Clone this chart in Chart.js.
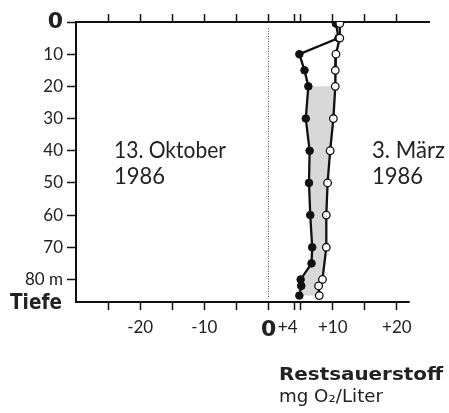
<!DOCTYPE html>
<html>
<head>
<meta charset="utf-8">
<script src="https://cdn.jsdelivr.net/npm/chart.js@4"></script>
<style>
html, body { margin: 0; padding: 0; background: #fff; }
#wrap { width: 449px; height: 413px; position: relative; }
</style>
</head>
<body>
<div id="wrap"><canvas id="profile"></canvas></div>
<script>
// Depth (m) and residual oxygen (mg O2 / l) for both dates
const octDepth = [0.5, 5, 10, 15, 20, 30, 40, 50, 60, 70, 75, 80, 82, 85]
const octO2 = [10.5, 10.9, 4.8, 5.6, 6.2, 5.8, 6.4, 6.3, 6.5, 6.8, 6.7, 5.0, 5.1, 4.8]
const marDepth = [0.5, 5, 10, 15, 20, 30, 40, 50, 60, 70, 80, 82, 85]
const marO2 = [11.1, 11.1, 10.5, 10.4, 10.4, 10.1, 9.6, 9.2, 9.0, 9.0, 8.4, 7.8, 7.9]

// Axis ticks and labels
const depthTicks = [0, 10, 20, 30, 40, 50, 60, 70, 80]
const o2Ticks = [-25, -20, -15, -10, -5, 0, 4, 5, 10, 15, 20]
const o2Labels = { '-20': '-20', '-10': '-10', '0': '0', '4': '+4   ', '10': '+10', '20': '+20' }
const zeroLineDepth = [2, 86]
const shadeFrom = 20

const ink = '#111'
const toPoints = (xs, ys) => xs.map((v, i) => ({ x: v, y: ys[i] }))
const octPts = toPoints(octO2, octDepth)
const marPts = toPoints(marO2, marDepth)
// shaded band between the two profiles below 20 m
const shadePts = octPts.filter(p => p.y >= shadeFrom)
    .concat(marPts.filter(p => p.y >= shadeFrom).reverse())

function fitText(ctx, text, x, y, font, width) {
    ctx.save()
    ctx.font = font
    const w = ctx.measureText(text).width
    ctx.translate(x, y)
    ctx.scale(width / w, 1)
    ctx.fillText(text, 0, 0)
    ctx.restore()
}

const textPlugin = {
    id: 'texts',
    afterDraw(chart) {
        const ctx = chart.ctx
        const xs = chart.scales.x
        const area = chart.chartArea
        // bottom axis line stops at +22
        ctx.save()
        ctx.strokeStyle = ink
        ctx.lineWidth = 2
        ctx.beginPath()
        ctx.moveTo(xs.getPixelForValue(-30) - 1, area.bottom)
        ctx.lineTo(xs.getPixelForValue(22), area.bottom)
        ctx.stroke()

        ctx.fillStyle = '#222'
        ctx.textBaseline = 'alphabetic'
        ctx.textAlign = 'left'
        fitText(ctx, '13. Oktober', 114, 158, '23px Lato', 112)
        fitText(ctx, '1986', 114, 184, '23px Lato', 51)
        fitText(ctx, '3. März', 372, 158, '23px Lato', 73)
        fitText(ctx, '1986', 372, 184, '23px Lato', 51)
        fitText(ctx, 'Tiefe', 10, 309, 'bold 22px "DejaVu Sans"', 52)
        fitText(ctx, 'Restsauerstoff', 279, 380, 'bold 18px "DejaVu Sans"', 164)
        fitText(ctx, 'mg O\u2082/Liter', 279, 402, '17px "DejaVu Sans"', 104)
        ctx.restore()
    }
}

const ctx = document.getElementById('profile')
const profileChart = new Chart(ctx, {
    type: 'scatter',
    data: {
        datasets: [
            {
                data: shadePts,
                showLine: true,
                fill: 'shape',
                backgroundColor: '#d8d8d8',
                borderWidth: 0,
                pointRadius: 0,
                order: 4
            },
            {
                data: toPoints([0, 0], zeroLineDepth),
                showLine: true,
                borderColor: '#444',
                borderWidth: 1,
                borderDash: [1, 1.5],
                pointRadius: 0,
                order: 3
            },
            {
                data: octPts,
                showLine: true,
                borderColor: ink,
                borderWidth: 2.3,
                pointRadius: 3.8,
                pointBackgroundColor: ink,
                pointBorderColor: ink,
                pointBorderWidth: 1,
                order: 2
            },
            {
                data: marPts,
                showLine: true,
                borderColor: ink,
                borderWidth: 2.3,
                pointRadius: 3.8,
                pointBackgroundColor: '#fff',
                pointBorderColor: ink,
                pointBorderWidth: 1.3,
                order: 1
            }
        ]
    },
    options: {
        responsive: true,
        maintainAspectRatio: false,
        animation: false,
        layout: { padding: { left: 0, right: 20, top: 0, bottom: 0 } },
        plugins: {
            legend: { display: false },
            tooltip: { enabled: false }
        },
        scales: {
            x: {
                type: 'linear',
                position: 'bottom',
                min: -30,
                max: 25,
                afterBuildTicks: s => { s.ticks = o2Ticks.map(v => ({ value: v })) },
                afterFit: s => { s.height = 111 },
                border: { display: false },
                grid: { drawOnChartArea: false, tickLength: 8, tickColor: ink, tickWidth: 1.5 },
                ticks: {
                    autoSkip: false,
                    maxRotation: 0,
                    padding: 7,
                    color: '#222',
                    font: c => (c.tick && c.tick.value === 0)
                        ? { family: 'DejaVu Sans', size: 22, weight: 'bold' }
                        : { family: 'Lato', size: 17 },
                    callback: v => o2Labels[v] ?? ''
                }
            },
            x2: {
                type: 'linear',
                position: 'top',
                min: -30,
                max: 25,
                afterBuildTicks: s => { s.ticks = o2Ticks.map(v => ({ value: v })) },
                afterFit: s => { s.height = 22 },
                border: { display: true, color: ink, width: 2 },
                grid: { drawOnChartArea: false, tickLength: 8, tickColor: ink, tickWidth: 1.5 },
                ticks: { display: false }
            },
            y: {
                type: 'linear',
                reverse: true,
                min: 0,
                max: 87,
                afterBuildTicks: s => { s.ticks = depthTicks.map(v => ({ value: v })) },
                afterFit: s => { s.width = 76 },
                border: { display: true, color: ink, width: 2 },
                grid: { drawOnChartArea: false, tickLength: 9, tickColor: ink, tickWidth: 1.5 },
                ticks: {
                    autoSkip: false,
                    padding: 4,
                    color: '#222',
                    font: c => (c.tick && c.tick.value === 0)
                        ? { family: 'DejaVu Sans', size: 22, weight: 'bold' }
                        : { family: 'Lato', size: 17 },
                    callback: v => v === 80 ? '80 m' : String(v)
                }
            }
        }
    },
    plugins: [textPlugin]
})
</script>
</body>
</html>
